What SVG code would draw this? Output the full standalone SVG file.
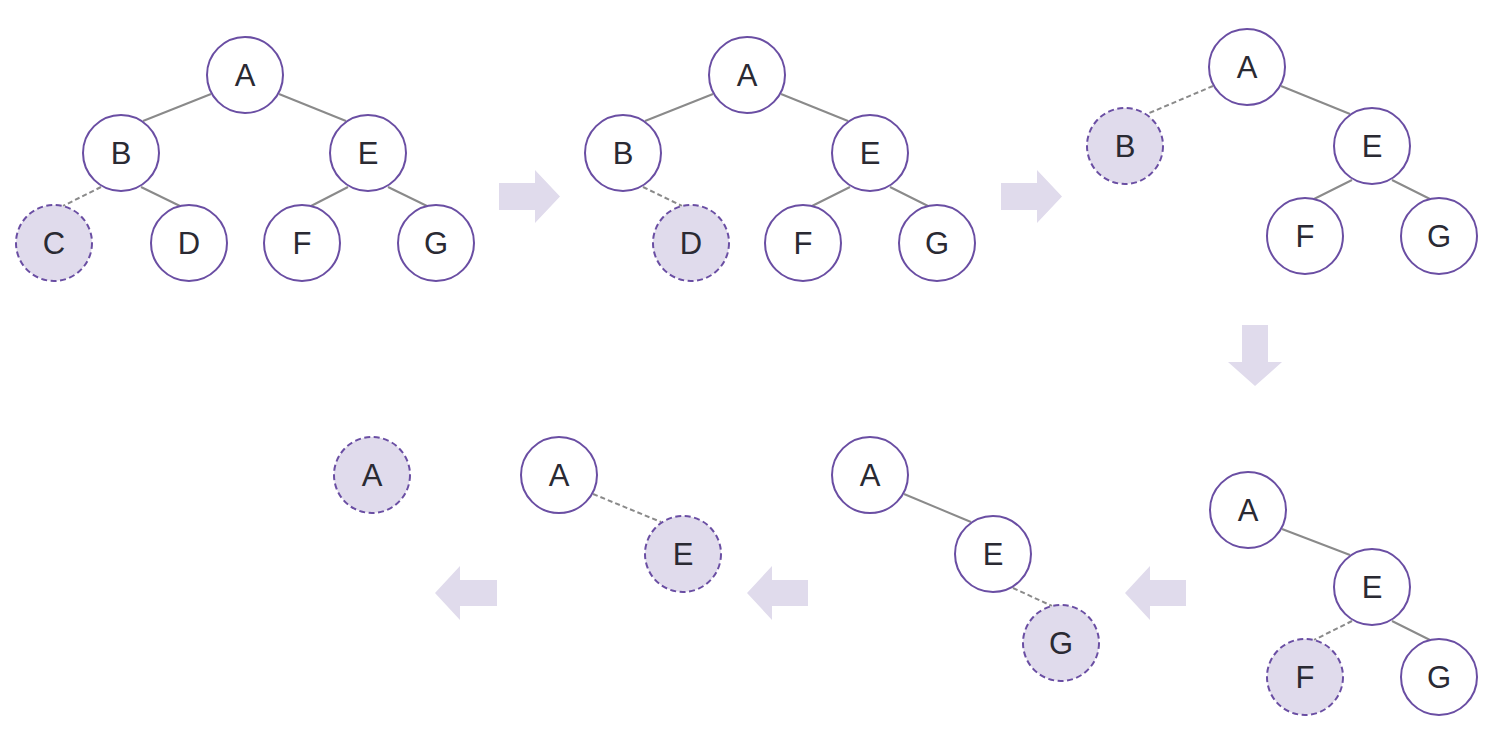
<svg xmlns="http://www.w3.org/2000/svg" width="1492" height="734" viewBox="0 0 1492 734">
<style>
.n circle{fill:#fff;stroke:#6a4ea3;stroke-width:2}
.n.v circle{fill:#e0dbec;stroke-dasharray:6 3.5}
.n text{font-family:"Liberation Sans",Arial,sans-serif;font-size:31px;fill:#2a2a33;text-anchor:middle}
.e line{stroke:#8a8a8a;stroke-width:2}
.e line.d{stroke-dasharray:5 3}
.ar{fill:#e0dbec}
</style>
<rect width="1492" height="734" fill="#fff"/>
<g id="edges" class="e">
<line x1="211" y1="94" x2="143" y2="121"/><line x1="279" y1="94" x2="346" y2="121"/>
<line class="d" x1="101" y1="187" x2="63" y2="206"/><line x1="141" y1="187" x2="180" y2="206"/>
<line x1="348" y1="187" x2="311" y2="206"/><line x1="388" y1="187" x2="427" y2="206"/>
<line x1="713" y1="94" x2="645" y2="121"/><line x1="781" y1="94" x2="848" y2="121"/>
<line class="d" x1="643" y1="187" x2="682" y2="206"/>
<line x1="850" y1="187" x2="812" y2="206"/><line x1="890" y1="187" x2="928" y2="206"/>
<line class="d" x1="1213" y1="86" x2="1147" y2="114"/><line x1="1281" y1="86" x2="1350" y2="114"/>
<line x1="1352" y1="180" x2="1314" y2="199"/><line x1="1392" y1="180" x2="1430" y2="199"/>
<line x1="1282" y1="529" x2="1350" y2="555"/>
<line class="d" x1="1352" y1="621" x2="1314" y2="640"/><line x1="1392" y1="621" x2="1430" y2="640"/>
<line x1="904" y1="494" x2="971" y2="522"/><line class="d" x1="1013" y1="588" x2="1052" y2="606"/>
<line class="d" x1="593" y1="494" x2="661" y2="522"/>
</g>
<g id="arrows">
<polygon class="ar" points="499,183 535,183 535,170 560,196.5 535,223 535,210 499,210"/>
<polygon class="ar" points="1001,183 1037,183 1037,170 1062,196.5 1037,223 1037,210 1001,210"/>
<polygon class="ar" points="1242,325 1268,325 1268,362 1282,362 1255,386 1228,362 1242,362"/>
<polygon class="ar" points="1186,580 1150,580 1150,566 1125,593 1150,620 1150,606 1186,606"/>
<polygon class="ar" points="808,580 772,580 772,566 747,593 772,620 772,606 808,606"/>
<polygon class="ar" points="497,580 460,580 460,566 435,593 460,620 460,606 497,606"/>
</g>
<g id="p1A" class="n"><circle cx="245" cy="75" r="38"/><text x="245" y="86">A</text></g>
<g id="p1B" class="n"><circle cx="121" cy="153" r="38"/><text x="121" y="164">B</text></g>
<g id="p1E" class="n"><circle cx="368" cy="153" r="38"/><text x="368" y="164">E</text></g>
<g id="p1C" class="n v"><circle cx="54" cy="243" r="38"/><text x="54" y="254">C</text></g>
<g id="p1D" class="n"><circle cx="189" cy="243" r="38"/><text x="189" y="254">D</text></g>
<g id="p1F" class="n"><circle cx="302" cy="243" r="38"/><text x="302" y="254">F</text></g>
<g id="p1G" class="n"><circle cx="436" cy="243" r="38"/><text x="436" y="254">G</text></g>
<g id="p2A" class="n"><circle cx="747" cy="75" r="38"/><text x="747" y="86">A</text></g>
<g id="p2B" class="n"><circle cx="623" cy="153" r="38"/><text x="623" y="164">B</text></g>
<g id="p2E" class="n"><circle cx="870" cy="153" r="38"/><text x="870" y="164">E</text></g>
<g id="p2D" class="n v"><circle cx="691" cy="243" r="38"/><text x="691" y="254">D</text></g>
<g id="p2F" class="n"><circle cx="803" cy="243" r="38"/><text x="803" y="254">F</text></g>
<g id="p2G" class="n"><circle cx="937" cy="243" r="38"/><text x="937" y="254">G</text></g>
<g id="p3A" class="n"><circle cx="1247" cy="67" r="38"/><text x="1247" y="78">A</text></g>
<g id="p3B" class="n v"><circle cx="1125" cy="146" r="38"/><text x="1125" y="157">B</text></g>
<g id="p3E" class="n"><circle cx="1372" cy="146" r="38"/><text x="1372" y="157">E</text></g>
<g id="p3F" class="n"><circle cx="1305" cy="236" r="38"/><text x="1305" y="247">F</text></g>
<g id="p3G" class="n"><circle cx="1439" cy="236" r="38"/><text x="1439" y="247">G</text></g>
<g id="p4A" class="n"><circle cx="1248" cy="510" r="38"/><text x="1248" y="521">A</text></g>
<g id="p4E" class="n"><circle cx="1372" cy="587" r="38"/><text x="1372" y="598">E</text></g>
<g id="p4F" class="n v"><circle cx="1305" cy="677" r="38"/><text x="1305" y="688">F</text></g>
<g id="p4G" class="n"><circle cx="1439" cy="677" r="38"/><text x="1439" y="688">G</text></g>
<g id="p5A" class="n"><circle cx="870" cy="475" r="38"/><text x="870" y="486">A</text></g>
<g id="p5E" class="n"><circle cx="993" cy="554" r="38"/><text x="993" y="565">E</text></g>
<g id="p5G" class="n v"><circle cx="1061" cy="643" r="38"/><text x="1061" y="654">G</text></g>
<g id="p6A" class="n"><circle cx="559" cy="475" r="38"/><text x="559" y="486">A</text></g>
<g id="p6E" class="n v"><circle cx="683" cy="554" r="38"/><text x="683" y="565">E</text></g>
<g id="p7A" class="n v"><circle cx="372" cy="475" r="38"/><text x="372" y="486">A</text></g>
</svg>
